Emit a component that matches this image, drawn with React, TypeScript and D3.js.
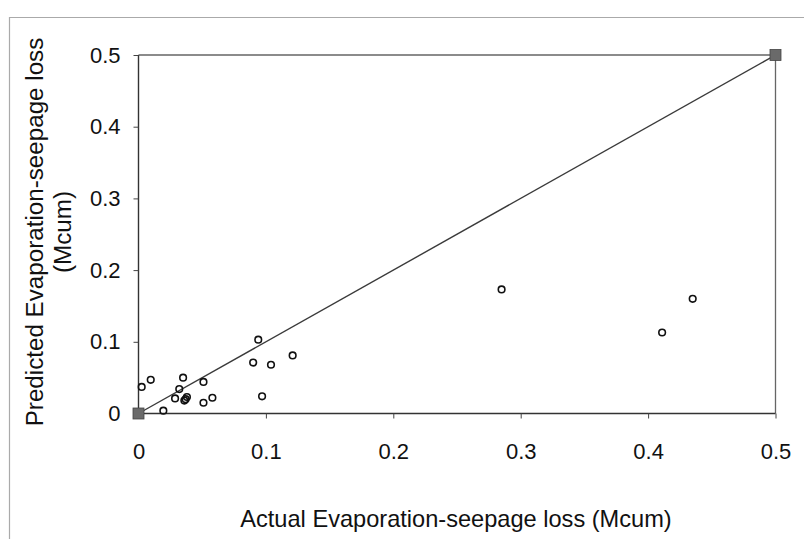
import React, { useEffect, useRef } from "react";
import * as d3 from "d3";

const actual = [0.0025, 0.0096, 0.0195, 0.0287, 0.032, 0.035, 0.036, 0.037, 0.038, 0.051, 0.051, 0.058, 0.09, 0.094, 0.097, 0.104, 0.121, 0.285, 0.411, 0.435];
const predicted = [0.037, 0.047, 0.004, 0.021, 0.034, 0.05, 0.018, 0.02, 0.023, 0.044, 0.015, 0.022, 0.071, 0.103, 0.024, 0.068, 0.081, 0.173, 0.113, 0.16];
const lineX = [0, 0.5];
const lineY = [0, 0.5];
const xTicks = [0, 0.1, 0.2, 0.3, 0.4, 0.5];
const yTicks = [0, 0.1, 0.2, 0.3, 0.4, 0.5];
const xTitle = "Actual Evaporation-seepage loss (Mcum)";
const yTitle = ["Predicted Evaporation-seepage loss", "(Mcum)"];

const W = 804, H = 539;
const L = 138.5, R = 775.5, T = 55, B = 413.5;
const FONT = "'Liberation Sans', Arial, sans-serif";

export default function App() {
  const ref = useRef<SVGSVGElement>(null);
  useEffect(() => {
    const svg = d3.select(ref.current);
    svg.selectAll("*").remove();
    const x = d3.scaleLinear().domain([0, 0.5]).range([L, R]);
    const y = d3.scaleLinear().domain([0, 0.5]).range([B, T]);

    svg.append("rect").attr("width", W).attr("height", H).attr("fill", "#fff");
    // outer chart frame
    svg.append("path").attr("d", `M9.5,${H}V17.5H${W}`).attr("fill", "none").attr("stroke", "#aaa").attr("stroke-width", 1.2);

    // plot box
    svg.append("path").attr("d", `M${L},${T}H${R}V${B}`).attr("fill", "none").attr("stroke", "#666").attr("stroke-width", 1.3);

    const fmt = (d: number) => (d === 0 ? "0" : d3.format(".1f")(d));
    const gx = svg.append("g").attr("transform", `translate(0,${B})`)
      .call(d3.axisBottom(x).tickValues(xTicks).tickFormat(fmt as any).tickSize(5).tickPadding(25));
    const gy = svg.append("g").attr("transform", `translate(${L},0)`)
      .call(d3.axisLeft(y).tickValues(yTicks).tickFormat(fmt as any).tickSize(5).tickPadding(13));
    [gx, gy].forEach((g) => {
      g.select(".domain").attr("stroke", "#333").attr("stroke-width", 1.4);
      g.selectAll(".tick line").attr("stroke", "#444").attr("stroke-width", 1);
      g.selectAll(".tick text").attr("font-family", FONT).attr("font-size", 22).attr("fill", "#111");
    });
    gx.select(".domain").attr("d", `M${L},0H${R}`);
    gy.select(".domain").attr("d", `M0,${B}V${T}`);

    // 1:1 line
    const lineData = lineX.map((v, i) => [v, lineY[i]] as [number, number]);
    svg.append("path").datum(lineData)
      .attr("d", d3.line<[number, number]>().x((d) => x(d[0])).y((d) => y(d[1])))
      .attr("fill", "none").attr("stroke", "#3a3a3a").attr("stroke-width", 1.4);
    svg.selectAll("rect.sq").data(lineData).enter().append("rect").attr("class", "sq")
      .attr("x", (d) => x(d[0]) - 5.5).attr("y", (d) => y(d[1]) - 5.5)
      .attr("width", 11).attr("height", 11).attr("fill", "#6a6a6a").attr("stroke", "#444").attr("stroke-width", 0.8);

    // data points
    svg.selectAll("circle.pt").data(actual.map((a, i) => [a, predicted[i]])).enter().append("circle").attr("class", "pt")
      .attr("cx", (d) => x(d[0])).attr("cy", (d) => y(d[1])).attr("r", 3.3)
      .attr("fill", "none").attr("stroke", "#111").attr("stroke-width", 1.6);

    // titles
    svg.append("text").attr("x", 456).attr("y", 527).attr("text-anchor", "middle")
      .attr("font-family", FONT).attr("font-size", 23.6).attr("fill", "#111").text(xTitle);
    const yt = svg.append("text").attr("transform", `translate(0,232) rotate(-90)`).attr("text-anchor", "middle")
      .attr("font-family", FONT).attr("font-size", 24.2).attr("fill", "#111");
    yt.append("tspan").attr("x", 0).attr("y", 43).text(yTitle[0]);
    yt.append("tspan").attr("x", 0).attr("y", 71).text(yTitle[1]);
  }, []);
  return (
    <div style={{ position: "fixed", left: 0, top: 0 }}>
      <svg ref={ref} width={W} height={H} style={{ display: "block" }} />
    </div>
  );
}
